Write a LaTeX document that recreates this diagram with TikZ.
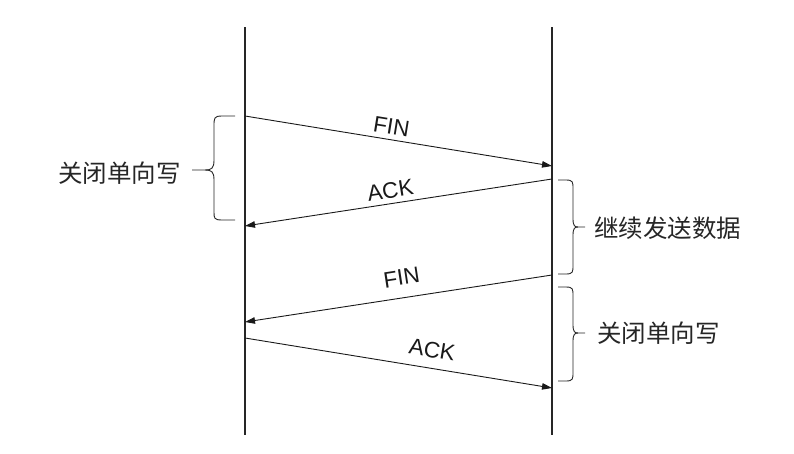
\documentclass[tikz,border=0pt]{standalone}
\usepackage{fontspec}
\setmainfont{Liberation Sans}
\newfontfamily\cjk{Noto Sans CJK SC}
\usetikzlibrary{arrows.meta}
\begin{document}
\begin{tikzpicture}[x=1pt,y=-1pt,
  lifeline/.style={line width=1.1pt,draw=black!85},
  msg/.style={line width=0.9pt,draw=black!90,-{Triangle[length=10pt,width=6.5pt]}},
  msglabel/.style={font=\fontsize{22.5}{24}\selectfont,sloped,inner sep=0pt,text=black!90},
  brace/.style={line width=0.9pt,draw=black!85},
  cjklabel/.style={font=\cjk\fontsize{24.5}{26}\selectfont,inner sep=0pt,text=black!85}]
\useasboundingbox (0,0) rectangle (794,453);
% lifelines
\coordinate (Ltop) at (245,27);
\coordinate (Lbot) at (245,435);
\coordinate (Rtop) at (552,27);
\coordinate (Rbot) at (552,435);
\draw[lifeline] (Ltop) -- (Lbot);
\draw[lifeline] (Rtop) -- (Rbot);
% message end points
\coordinate (a1) at (245,116);
\coordinate (b1) at (552,166);
\coordinate (a2) at (552,179);
\coordinate (b2) at (245,226);
\coordinate (a3) at (552,275);
\coordinate (b3) at (245,322);
\coordinate (a4) at (245,338);
\coordinate (b4) at (552,388);
\draw[msg] (a1) -- node[msglabel,above=5pt,pos=0.47] (fin1) {FIN} (b1);
\draw[msg] (a2) -- node[msglabel,above=5pt,pos=0.52] (ack1) {ACK} (b2);
\draw[msg] (a3) -- node[msglabel,above=12pt,pos=0.48] (fin2) {FIN} (b3);
\draw[msg] (a4) -- node[msglabel,above=10pt,pos=0.6] (ack2) {ACK} (b4);
% left brace
\draw[brace] (235,116) -- (222,116) .. controls (214,116) and (214,118) .. (214,126)
  -- (214,160) .. controls (214,168) and (212,170) .. (205,170) -- (192,170);
\draw[brace] (235,220) -- (222,220) .. controls (214,220) and (214,218) .. (214,212)
  -- (214,180) .. controls (214,172) and (212,170) .. (205,170);
\node[cjklabel,anchor=east] (lbl1) at (181,173) {关闭单向写};
% right brace 1
\draw[brace] (558,180) -- (566,180) .. controls (573,180) and (573,182) .. (573,189)
  -- (573,219) .. controls (573,226) and (575,227) .. (578,227) -- (585,227);
\draw[brace] (558,274) -- (566,274) .. controls (573,274) and (573,272) .. (573,265)
  -- (573,235) .. controls (573,228) and (575,227) .. (578,227);
\node[cjklabel,anchor=west] (lbl2) at (594,228) {继续发送数据};
% right brace 2
\draw[brace] (558,287) -- (566,287) .. controls (573,287) and (573,289) .. (573,296)
  -- (573,325) .. controls (573,332) and (575,333) .. (578,333) -- (585,333);
\draw[brace] (558,381) -- (566,381) .. controls (573,381) and (573,379) .. (573,372)
  -- (573,341) .. controls (573,334) and (575,333) .. (578,333);
\node[cjklabel,anchor=west] (lbl3) at (597,333) {关闭单向写};
\end{tikzpicture}
\end{document}
